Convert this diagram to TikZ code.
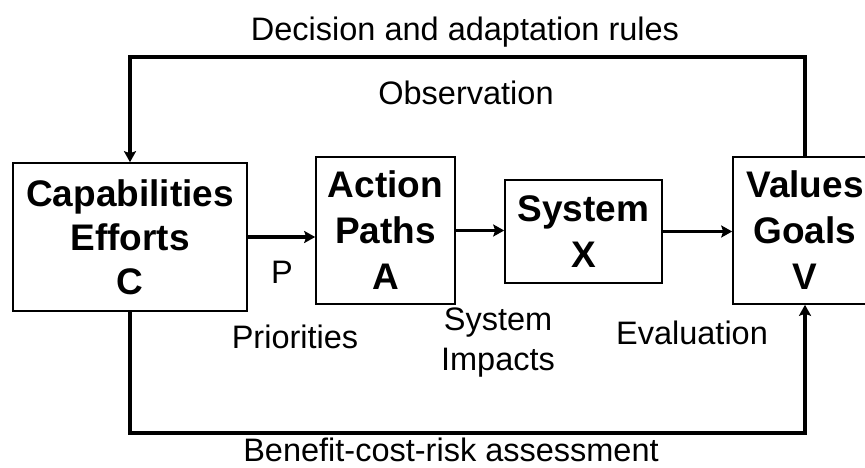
\documentclass[tikz,border=0pt]{standalone}
\usepackage{fontspec}
\setmainfont{Liberation Sans}
\usetikzlibrary{arrows.meta,positioning}

\begin{document}
\begin{tikzpicture}[x=1pt, y=-1pt, >={Stealth[length=11pt, width=12pt, inset=2pt]},
   box/.style={draw, line width=1.6pt, inner sep=0pt, align=center,
               font=\bfseries\fontsize{37}{46}\selectfont},
   lbl/.style={inner sep=0pt, align=center, font=\fontsize{32.5}{40}\selectfont},
   link/.style={line width=3.5pt, ->}]
   \useasboundingbox (0,0) rectangle (865,468);

   \node[box, minimum width=234pt, minimum height=148pt,
         font=\bfseries\fontsize{37}{44}\selectfont] (C) at (130,237) {Capabilities\\Efforts\\C};
   \node[box, minimum width=139pt, minimum height=147pt] (A) at (385.5,230.5) {Action\\Paths\\A};
   \node[box, minimum width=157pt, minimum height=103pt] (X) at (583.5,231.5) {System\\X};
   \node[box, minimum width=144pt, minimum height=147pt] (V) at (805,230.5) {Values\\Goals\\V};

   \coordinate (tl) at (130,57);
   \coordinate (tr) at (805,57);
   \coordinate (bl) at (130,433);
   \coordinate (br) at (805,433);

   \draw[link] (C.east) -- (C.east -| A.west);
   \draw[link] (A.east) -- (A.east -| X.west);
   \draw[link] (X.east) -- (X.east -| V.west);
   \draw[link] (V.north) -- (tr) -- (tl) -- (C.north);
   \draw[link] (C.south) -- (bl) -- (br) -- (V.south);

   \node[lbl] (dec) at (465,32) {Decision and adaptation rules};
   \node[lbl] (obs) at (466,93) {Observation};
   \node[lbl] (p) at (282,272) {P};
   \node[lbl] (pri) at (295,337) {Priorities};
   \node[lbl] (imp) at (498,343) {System\\Impacts};
   \node[lbl] (eva) at (692,333) {Evaluation};
   \node[lbl] (bcr) at (451,450) {Benefit-cost-risk assessment};
\end{tikzpicture}
\end{document}
